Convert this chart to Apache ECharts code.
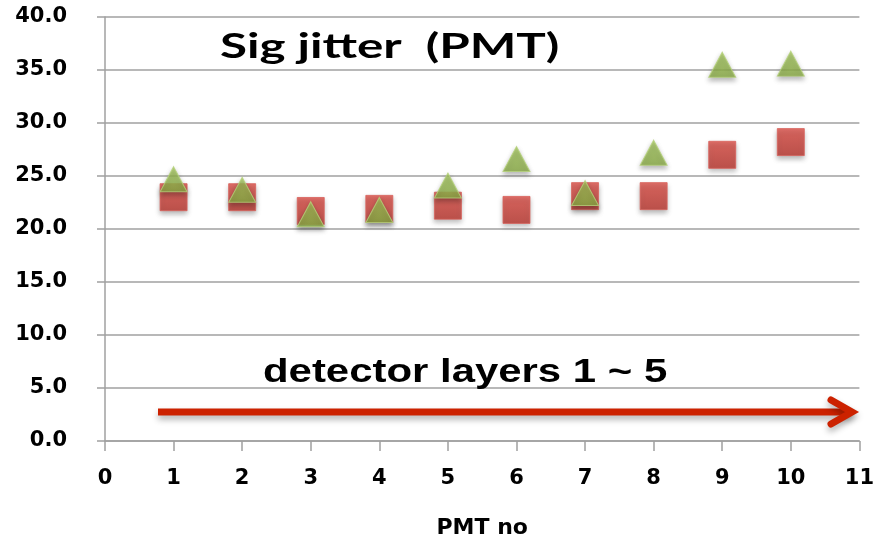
<!DOCTYPE html>
<html>
<head>
<meta charset="utf-8">
<script src="https://cdn.jsdelivr.net/npm/echarts@6/dist/echarts.min.js"></script>
<style>
html,body{margin:0;padding:0;background:#fff;}
#chart{width:877px;height:547px;}
</style>
</head>
<body>
<div id="chart"></div>
<script>
var pmtNo = [1, 2, 3, 4, 5, 6, 7, 8, 9, 10];
var squareValues = [23.0, 23.0, 21.7, 21.9, 22.2, 21.8, 23.1, 23.1, 27.0, 28.2];
var triangleValues = [24.7, 23.7, 21.4, 21.8, 24.1, 26.6, 23.4, 27.2, 35.5, 35.6];
var titleText = 'Sig jitter  (PMT)';
var noteText = 'detector layers 1 ~ 5';
var xAxisName = 'PMT no';

function pairs(xs, ys) { return xs.map(function (x, i) { return [x, ys[i]]; }); }

var chart = echarts.init(document.getElementById('chart'));
var tickFont = { fontFamily: 'DejaVu Sans', fontWeight: 'bold', fontSize: 21, color: '#000' };

chart.setOption({
  animation: false,
  backgroundColor: '#fff',
  grid: { left: 105, right: 17, top: 17, bottom: 106, containLabel: false },
  xAxis: {
    type: 'value', min: 0, max: 11, interval: 1,
    name: xAxisName, nameLocation: 'middle', nameGap: 76,
    nameTextStyle: { fontFamily: 'DejaVu Sans', fontWeight: 'bold', fontSize: 22, color: '#000' },
    axisLine: { show: true, lineStyle: { color: '#a0a0a0', width: 1.5 } },
    axisTick: { show: true, length: 10, lineStyle: { color: '#a0a0a0', width: 1.5 } },
    axisLabel: Object.assign({ margin: 27 }, tickFont),
    splitLine: { show: false }
  },
  yAxis: {
    type: 'value', min: 0, max: 40, interval: 5,
    axisLine: { show: true, lineStyle: { color: '#a0a0a0', width: 1.5 } },
    axisTick: { show: true, length: 8, lineStyle: { color: '#a0a0a0', width: 1.5 } },
    axisLabel: Object.assign({ margin: 38, formatter: function (v) { return v.toFixed(1); } }, tickFont),
    splitLine: { show: true, lineStyle: { color: '#a0a0a0', width: 1.5 } }
  },
  series: [
    {
      type: 'scatter', symbol: 'rect', symbolSize: [27, 27],
      data: pairs(pmtNo, squareValues),
      itemStyle: {
        color: new echarts.graphic.LinearGradient(0, 0, 0, 1, [
          { offset: 0, color: '#dd4d45' }, { offset: 1, color: '#bb362e' }]),
        borderColor: '#d8625b', borderWidth: 1,
        shadowBlur: 5, shadowOffsetY: 3, shadowColor: 'rgba(0,0,0,0.35)'
      },
      z: 3
    },
    {
      type: 'scatter', symbol: 'triangle', symbolSize: [27, 25],
      data: pairs(pmtNo, triangleValues),
      itemStyle: {
        color: new echarts.graphic.LinearGradient(0, 0, 0, 1, [
          { offset: 0, color: '#a5c85c' }, { offset: 1, color: '#8aac45' }]),
        borderColor: '#b5d27a', borderWidth: 1,
        shadowBlur: 5, shadowOffsetY: 3, shadowColor: 'rgba(0,0,0,0.35)'
      },
      z: 4
    }
  ],
  graphic: [
    {
      type: 'text', x: 220, y: 47, scaleX: 1.45, z: 10,
      style: { text: titleText, x: 0, y: 0, verticalAlign: 'middle', align: 'left',
               fontFamily: 'Lato', fontWeight: 'bold', fontSize: 34, fill: '#000' }
    },
    {
      type: 'text', x: 263, y: 373, scaleX: 1.27, z: 10,
      style: { text: noteText, x: 0, y: 0, verticalAlign: 'middle', align: 'left',
               fontFamily: 'Liberation Sans', fontWeight: 'bold', fontSize: 33, fill: '#000' }
    },
    {
      type: 'line', z: 10,
      shape: { x1: 158, y1: 412, x2: 852, y2: 412 },
      style: { stroke: '#cc2200', lineWidth: 7, shadowBlur: 6, shadowOffsetY: 4, shadowColor: 'rgba(0,0,0,0.3)' }
    },
    {
      type: 'polyline', z: 10,
      shape: { points: [[831, 400], [852, 412], [831, 424]] },
      style: { stroke: '#cc2200', lineWidth: 7, fill: null, lineCap: 'round', lineJoin: 'miter',
               shadowBlur: 6, shadowOffsetY: 4, shadowColor: 'rgba(0,0,0,0.3)' }
    }
  ]
});
</script>
</body>
</html>
